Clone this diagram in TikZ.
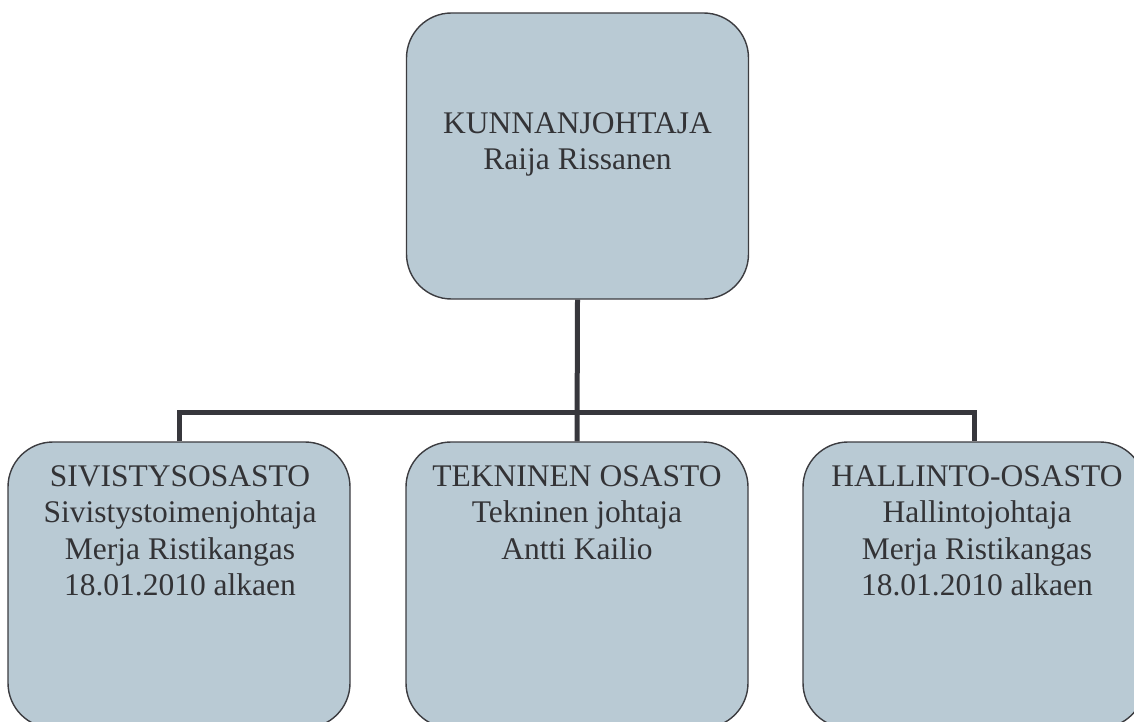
\documentclass[tikz,border=0pt]{standalone}
\usepackage{fontspec}
\setmainfont{Liberation Serif}
\begin{document}
\begin{tikzpicture}[x=1pt,y=-1pt,
  box/.style={draw=boxline,line width=1.4pt,fill=boxfill,rounded corners=45pt,
    minimum width=342pt,minimum height=286pt,inner sep=0pt},
  lbl/.style={anchor=north,align=center,inner sep=0pt,text=txt,
    font=\fontsize{31.5}{36.5}\selectfont},
  conn/.style={draw=connc,line width=5pt}]
\definecolor{boxfill}{HTML}{B9CAD4}
\definecolor{boxline}{HTML}{3C3C40}
\definecolor{connc}{HTML}{37373C}
\definecolor{txt}{HTML}{333336}
\useasboundingbox (0,0) rectangle (1134,722);
\node[box] (top) at (577.5,156) {};
\node[box] (left) at (179,585) {};
\node[box] (mid) at (577,585) {};
\node[box] (right) at (974,585) {};
\coordinate (hub) at (577,412);
\draw[conn] (top.south) -- (mid.north);
\draw[conn] (left.north) |- (hub) -| (right.north);
\node[lbl] (ttop) at (577.5,112) {KUNNANJOHTAJA\\Raija Rissanen};
\node[lbl] (tleft) at (180,465) {SIVISTYSOSASTO\\Sivistystoimenjohtaja\\Merja Ristikangas\\18.01.2010 alkaen};
\node[lbl] (tmid) at (577,465) {TEKNINEN OSASTO\\Tekninen johtaja\\Antti Kailio};
\node[lbl] (tright) at (977,465) {HALLINTO-OSASTO\\Hallintojohtaja\\Merja Ristikangas\\18.01.2010 alkaen};
\end{tikzpicture}
\end{document}
